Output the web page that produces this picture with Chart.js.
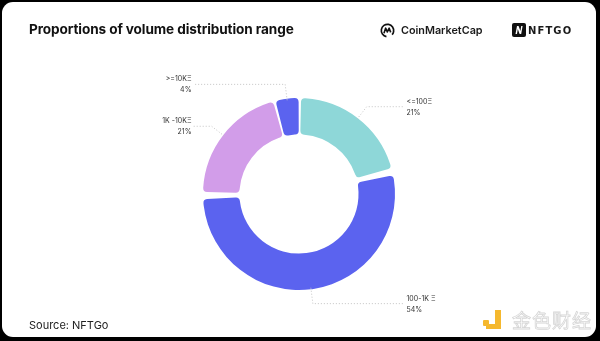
<!DOCTYPE html>
<html>
<head>
<meta charset="utf-8">
<script src="https://cdn.jsdelivr.net/npm/chart.js@4.4.0/dist/chart.umd.min.js"></script>
<style>
  html, body { margin: 0; padding: 0; background: #000; }
  #card {
    position: absolute; left: 2px; top: 2px; width: 594px; height: 335px;
    background: #fff; border-radius: 11px; overflow: hidden;
  }
  #chartBox { position: absolute; left: -2px; top: -2px; width: 600px; height: 341px; }
  .title {
    position: absolute; left: 27px; top: 19px; font-family: Inter, sans-serif;
    font-weight: 700; font-size: 13.6px; color: #111; letter-spacing: -0.1px;
  }
  .source {
    position: absolute; left: 27px; top: 316px; font-family: Inter, sans-serif;
    font-size: 11px; color: #222;
  }
  .cmc { position: absolute; left: 378px; top: 21px; display: flex; align-items: center; gap: 6px;
    font-family: Inter, sans-serif; font-weight: 600; font-size: 10.8px; color: #1a1a1a; }
  .nftgo { position: absolute; left: 510px; top: 21px; display: flex; align-items: center; gap: 2px;
    font-family: "DejaVu Sans", sans-serif; font-weight: 700; font-size: 10px; color: #1a1a1a; letter-spacing: 1.1px; }
  .wm { position: absolute; left: 481px; top: 304px; display: flex; align-items: center; gap: 7px; }
  .wm span { font-family: "Noto Sans CJK SC", sans-serif; font-size: 19px; color: #fff;
    -webkit-text-stroke: 0.8px #d6d6d6; letter-spacing: 1px; }
</style>
</head>
<body>
<div id="card">
  <div id="chartBox"><canvas id="volumeChart"></canvas></div>
  <div class="title">Proportions of volume distribution range</div>
  <div class="cmc">
    <svg width="15" height="15" viewBox="0 0 16 16">
      <circle cx="8" cy="8" r="6.6" fill="none" stroke="#111" stroke-width="1.8" stroke-dasharray="34 8" transform="rotate(100 8 8)"/>
      <path d="M4.2 11 L6 5.5 L7.8 9.5 L9.8 5.5 L11.4 10" fill="none" stroke="#111" stroke-width="1.7" stroke-linejoin="round"/>
    </svg>
    <span>CoinMarketCap</span>
  </div>
  <div class="nftgo">
    <svg width="14" height="14" viewBox="0 0 14 14">
      <rect x="0" y="0" width="14" height="14" rx="2" fill="#111"/>
      <path d="M3.5 11 L5 3 L6.6 3 L8.4 8 L9.2 3 L10.6 3 L9.2 11 L7.6 11 L5.8 6 L5 11 Z" fill="#fff"/>
    </svg>
    <span>NFTGO</span>
  </div>
  <div class="source">Source: NFTGo</div>
  <div class="wm">
    <svg width="22" height="22" viewBox="0 0 22 22">
      <rect x="0" y="11" width="6" height="6" rx="1" fill="#f5b82e"/>
      <rect x="12" y="1" width="6" height="19" fill="#f5b82e"/>
      <rect x="3" y="15" width="15" height="5" fill="#f5b82e"/>
    </svg>
    <span>金色财经</span>
  </div>
</div>

<script>
// Распределение объёма по диапазонам
const rangeLabels = ['<=100Ξ', '100-1K Ξ', '1K -10KΞ', '>=10KΞ'];
const rangeShares = [21, 54, 21, 4];
const rangeColors = ['#8ed7d8', '#5b63ef', '#d29de9', '#5b63ef'];

// подписи с пунктирными выносками
const leaderLabels = {
  id: 'leaderLabels',
  afterDatasetsDraw(chart) {
    const ctx = chart.ctx;
    const meta = chart.getDatasetMeta(0);
    ctx.save();
    meta.data.forEach((arc, i) => {
      const p = arc.getProps(['x', 'y', 'startAngle', 'endAngle', 'outerRadius'], true);
      const mid = (p.startAngle + p.endAngle) / 2;
      const R = p.outerRadius;
      const cos = Math.cos(mid), sin = Math.sin(mid);
      const x0 = p.x + cos * (R + 1), y0 = p.y + sin * (R + 1);
      const x1 = p.x + cos * (R + 17), y1 = p.y + sin * (R + 17);
      const right = cos >= 0;
      const x2 = right ? p.x + R + 12 : p.x - R - 12;

      ctx.setLineDash([1, 2]);
      ctx.strokeStyle = '#c4c4c4';
      ctx.lineWidth = 1;
      ctx.beginPath();
      ctx.moveTo(x0, y0);
      ctx.lineTo(x1, y1);
      ctx.lineTo(x2, y1);
      ctx.stroke();

      ctx.setLineDash([]);
      ctx.fillStyle = '#333';
      ctx.font = '7px Inter, sans-serif';
      ctx.textBaseline = 'middle';
      ctx.textAlign = right ? 'left' : 'right';
      const tx = right ? p.x + R + 14 : p.x - R - 14;
      ctx.fillText(rangeLabels[i], tx, y1 - 5);
      ctx.fillText(rangeShares[i] + '%', tx, y1 + 6);
    });
    ctx.restore();
  }
};

new Chart(document.getElementById('volumeChart'), {
  type: 'doughnut',
  data: {
    labels: rangeLabels,
    datasets: [{
      data: rangeShares,
      backgroundColor: rangeColors,
      borderWidth: 0,
      borderRadius: 4,
      spacing: 5
    }]
  },
  options: {
    responsive: true,
    maintainAspectRatio: false,
    animation: false,
    cutout: '61%',
    layout: { padding: { left: 203, right: 205, top: 96, bottom: 49 } },
    plugins: { legend: { display: false }, tooltip: { enabled: false } }
  },
  plugins: [leaderLabels]
});
</script>
</body>
</html>
